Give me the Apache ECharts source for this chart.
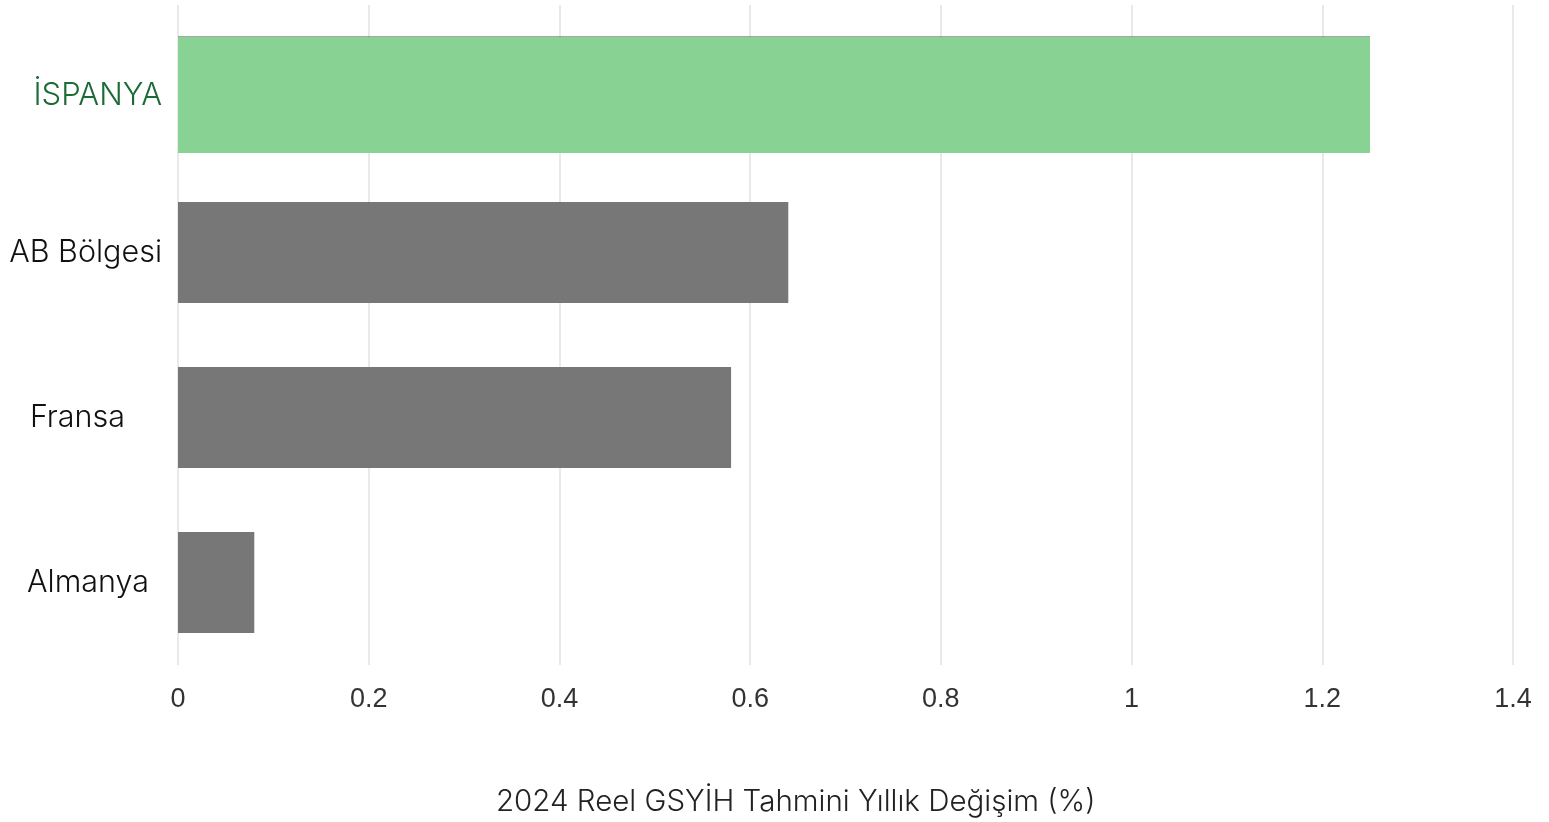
<!DOCTYPE html>
<html>
<head>
<meta charset="utf-8">
<script src="https://cdn.jsdelivr.net/npm/echarts@6/dist/echarts.min.js"></script>
<style>
  html, body { margin: 0; padding: 0; background: #fff; }
  #chart { width: 1549px; height: 822px; }
</style>
</head>
<body>
<div id="chart"></div>
<script>
(function(){
    var countries = ['İSPANYA', 'AB Bölgesi', 'Fransa', 'Almanya'];
    var spainValue = [1.25, '-', '-', '-'];
    var otherValues = ['-', 0.64, 0.58, 0.08];
    var xTicks = [0, 0.2, 0.4, 0.6, 0.8, 1, 1.2, 1.4];
    var axisTitle = '2024 Reel GSYİH Tahmini Yıllık Değişim (%)';

    // the source labels are not neatly aligned, so each gets its own padding
    var labelKey = { 'İSPANYA': 'es', 'AB Bölgesi': 'ab', 'Fransa': 'fr', 'Almanya': 'de' };
    var lblFont = 'Inter';

    var chart = echarts.init(document.getElementById('chart'));
    chart.setOption({
        backgroundColor: '#ffffff',
        animation: false,
        title: {
            text: axisTitle,
            left: 491,
            top: 782,
            textStyle: { fontFamily: lblFont, fontWeight: 300, fontSize: 29.5, color: '#222' }
        },
        grid: { left: 178, right: 36, top: 5, bottom: 157, containLabel: false },
        xAxis: {
            type: 'value',
            min: 0,
            max: 1.4,
            interval: 0.2,
            axisLine: { show: false },
            axisTick: { show: false },
            splitLine: { lineStyle: { color: '#e2e2e2', width: 1.5 } },
            axisLabel: {
                margin: 21,
                fontFamily: 'Liberation Sans',
                fontSize: 27,
                color: '#333',
                formatter: function (v) {
                    for (var i = 0; i < xTicks.length; i++) {
                        if (Math.abs(xTicks[i] - v) < 1e-9) return String(xTicks[i]);
                    }
                    return '';
                }
            }
        },
        yAxis: {
            type: 'category',
            inverse: true,
            data: countries,
            axisLine: { show: false },
            axisTick: { show: false },
            axisLabel: {
                margin: 16,
                formatter: function (v) { return '{' + labelKey[v] + '|' + v + '}'; },
                rich: {
                    es: { fontFamily: lblFont, fontWeight: 300, fontSize: 31, color: '#1b6b36', padding: [16, 0, 0, 0] },
                    ab: { fontFamily: lblFont, fontWeight: 300, fontSize: 30.5, color: '#111', padding: [0, 0, 0, 0] },
                    fr: { fontFamily: lblFont, fontWeight: 300, fontSize: 30.5, color: '#111', padding: [0, 37, 0, 0] },
                    de: { fontFamily: lblFont, fontWeight: 300, fontSize: 30.5, color: '#111', padding: [0, 13, 0, 0] }
                }
            }
        },
        series: [
            {
                name: 'spain',
                type: 'bar',
                data: spainValue,
                barWidth: 116,
                barGap: '-100%',
                itemStyle: { color: '#88d394', shadowColor: 'rgba(0,0,0,0.35)', shadowOffsetY: -1, shadowBlur: 0 }
            },
            {
                name: 'others',
                type: 'bar',
                data: otherValues,
                barWidth: 101,
                barGap: '-100%',
                itemStyle: { color: '#777777' }
            }
        ]
    });
})();
</script>
</body>
</html>
